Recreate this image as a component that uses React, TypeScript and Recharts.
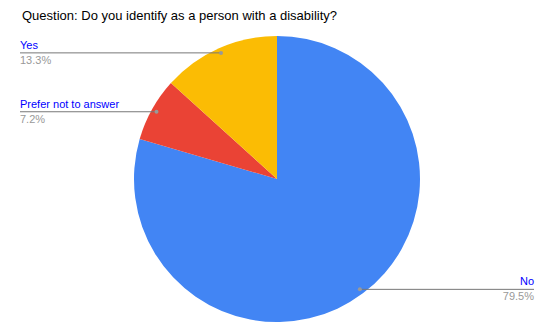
import React from 'react'
import { PieChart, Pie, Cell } from 'recharts'

const categories = ['No', 'Prefer not to answer', 'Yes']
const shares = [79.5, 7.2, 13.3]
const colors = ['#4285F4', '#EA4335', '#FBBC04']

const data = categories.map((name, i) => ({ name, value: shares[i] }))

const RADIAN = Math.PI / 180

// Google Sheets style label: dot on slice, horizontal leader, name above, percent below
const renderLabel = (props: any) => {
  const { cx, cy, midAngle, outerRadius, name, value } = props
  const r = outerRadius * 0.965
  const x = cx + r * Math.cos(-midAngle * RADIAN)
  const y = cy + r * Math.sin(-midAngle * RADIAN)
  const right = x > cx
  const endX = right ? 534 : 20
  const anchor = right ? 'end' : 'start'
  return (
    <g>
      <line x1={x} y1={y} x2={endX} y2={y} stroke="#777777" strokeWidth={1} />
      <circle cx={x} cy={y} r={2} fill="#999999" />
      <text x={endX} y={y - 4} textAnchor={anchor} fill="#0000FF" fontSize={11} fontFamily="Liberation Sans, Arial, sans-serif">
        {name}
      </text>
      <text x={endX} y={y + 11} textAnchor={anchor} fill="#999999" fontSize={11} fontFamily="Liberation Sans, Arial, sans-serif">
        {`${value.toFixed(1)}%`}
      </text>
    </g>
  )
}

export default function App() {
  return (
    <div style={{ position: 'absolute', left: 0, top: 0, width: 543, height: 323, background: '#fff' }}>
      <div
        style={{
          position: 'absolute',
          left: 22,
          top: 8,
          fontFamily: 'Liberation Sans, Arial, sans-serif',
          fontSize: 13,
          color: '#000',
          whiteSpace: 'nowrap',
        }}
      >
        Question: Do you identify as a person with a disability?
      </div>
      <PieChart width={543} height={323} margin={{ top: 0, right: 0, bottom: 0, left: 0 }}>
        <Pie
          data={data}
          dataKey="value"
          nameKey="name"
          cx={277}
          cy={179}
          outerRadius={143}
          startAngle={90}
          endAngle={-270}
          stroke="none"
          label={renderLabel}
          labelLine={false}
          isAnimationActive={false}
        >
          {data.map((entry, index) => (
            <Cell key={`cell-${index}`} fill={colors[index]} />
          ))}
        </Pie>
      </PieChart>
    </div>
  )
}
